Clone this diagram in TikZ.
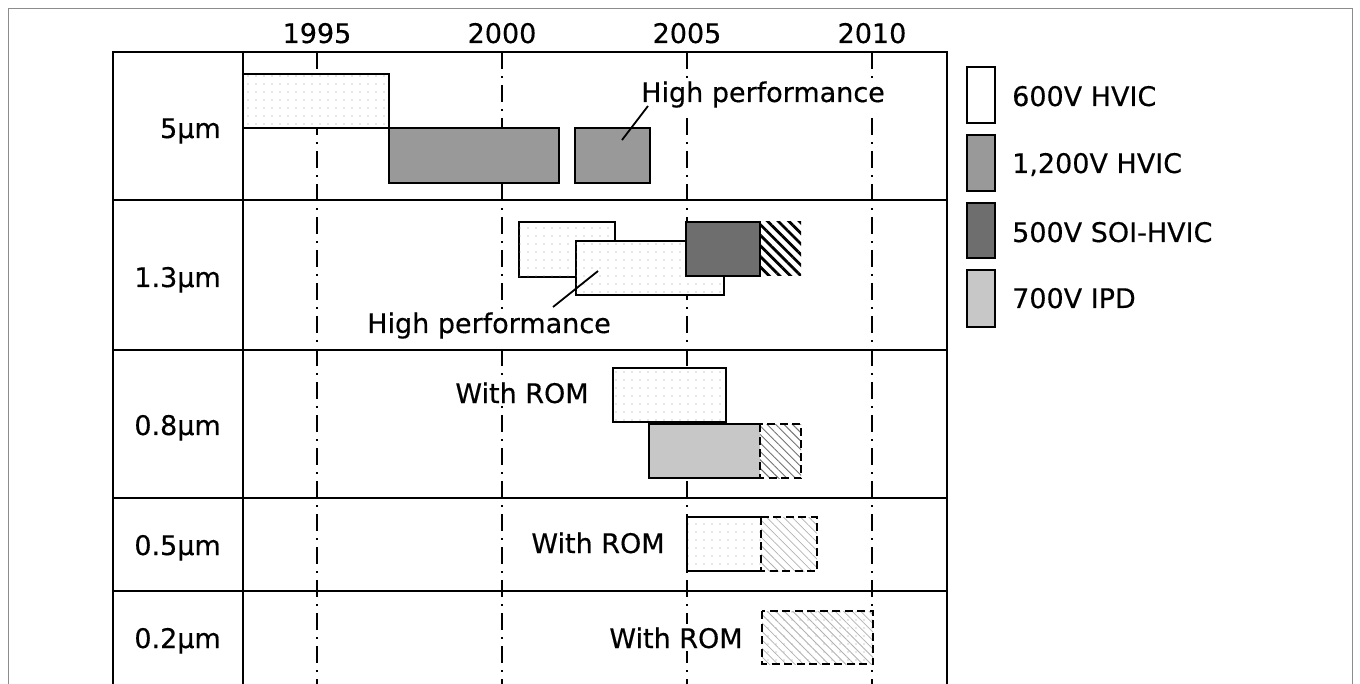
\documentclass[tikz,border=0pt]{standalone}
\usepackage{fontspec}
\setmainfont{DejaVu Sans}[FakeBold=0.4]
\usetikzlibrary{patterns.meta}

\begin{document}
\begin{tikzpicture}[x=1pt,y=-1pt,
  every node/.style={font=\fontsize{27}{32}\selectfont, inner sep=0pt},
  lbl/.style={fill=white, inner sep=3pt},
  frame/.style={draw=black!45, line width=1pt},
  rule/.style={line width=2.3pt, line cap=rect},
  gridline/.style={line width=1.6pt, dash pattern=on 17pt off 7pt on 2pt off 7pt},
  edge/.style={line width=2.5pt},
  dotted fill/.style={fill=white, postaction={pattern={Dots[distance=8pt, radius=0.6pt]}, pattern color=black!40}},
  hvic600/.style={draw, edge, dotted fill},
  hvic1200/.style={draw, edge, fill=black!40},
  soi/.style={draw, edge, fill=black!57},
  ipd/.style={fill=black!22},
  hatchbold/.style={pattern={Lines[angle=-45, distance=7.5pt, line width=2.8pt]}, pattern color=black},
  hatchthin/.style={pattern={Lines[angle=-45, distance=6pt, line width=1pt]}, pattern color=black!55},
  hatchfaint/.style={pattern={Lines[angle=-45, distance=6pt, line width=0.8pt]}, pattern color=black!30},
  dashbox/.style={draw, line width=2.5pt, dash pattern=on 8pt off 4.5pt},
  leader/.style={line width=1.8pt},
]
\useasboundingbox (0,0) rectangle (1360,684);

% outer frame (open at the bottom)
\draw[frame] (8,684) -- (8,9) -- (1352,9) -- (1352,684);

% year grid
\foreach \gx in {317,502,687,872}
  \draw[gridline] (\gx,52) -- (\gx,684);

% table rules
\foreach \ry in {52,200,350,498,591}
  \draw[rule] (113,\ry) -- (947,\ry);
\foreach \rx in {113,243,947}
  \draw[rule] (\rx,52) -- (\rx,690);

% year labels
\node[anchor=base] (y1995) at (317,43) {1995};
\node[anchor=base] (y2000) at (502,43) {2000};
\node[anchor=base] (y2005) at (687,43) {2005};
\node[anchor=base] (y2010) at (872,43) {2010};

% process rows
\node[anchor=base east] (r50) at (221,138) {5µm};
\node[anchor=base east] (r13) at (221,287) {1.3µm};
\node[anchor=base east] (r08) at (221,435) {0.8µm};
\node[anchor=base east] (r05) at (221,555) {0.5µm};
\node[anchor=base east] (r02) at (221,648) {0.2µm};

% 5um
\draw[hvic600] (243,74) rectangle (389,128);
\draw[hvic1200] (389,128) rectangle (559,183);
\draw[hvic1200] (575,128) rectangle (650,183);
\node[lbl, anchor=base] (hp1) at (763,102) {High performance};
\coordinate (hp1a) at (648,106);
\coordinate (hp1b) at (622,140);
\draw[leader] (hp1a) -- (hp1b);

% 1.3um
\draw[hvic600] (519,222) rectangle (615,277);
\draw[hvic600] (576,241) rectangle (724,295);
\draw[soi] (686,222) rectangle (760,276);
\path[hatchbold] (760,222) rectangle (801,276);
\node[lbl, anchor=base] (hp2) at (489,333) {High performance};
\coordinate (hp2a) at (553,307);
\coordinate (hp2b) at (598,271);
\draw[leader] (hp2a) -- (hp2b);

% 0.8um
\draw[hvic600] (613,368) rectangle (726,422);
\fill[ipd] (649,424) rectangle (760,478);
\draw[edge] (760,424) -- (649,424) -- (649,478) -- (760,478);
\path[hatchthin] (760,424) rectangle (801,478);
\draw[dashbox] (760,424) rectangle (801,478);
\node[lbl, anchor=base] (rom08) at (522,403) {With ROM};

% 0.5um
\path[dotted fill] (687,517) rectangle (761,571);
\draw[edge] (761,517) -- (687,517) -- (687,571) -- (761,571);
\path[hatchfaint] (761,517) rectangle (817,571);
\draw[dashbox] (761,517) rectangle (817,571);
\node[lbl, anchor=base] (rom05) at (598,553) {With ROM};

% 0.2um
\path[dotted fill] (762,611) rectangle (873,664);
\path[hatchfaint] (762,611) rectangle (873,664);
\draw[dashbox] (762,611) rectangle (873,664);
\node[lbl, anchor=base] (rom02) at (676,648) {With ROM};

% legend
\draw[edge, fill=white] (967,67) rectangle (995,123);
\draw[hvic1200] (967,135) rectangle (995,191);
\draw[soi] (967,203) rectangle (995,258);
\draw[edge, ipd] (967,270) rectangle (995,327);
\node[anchor=base west] (l600) at (1012,106) {600V HVIC};
\node[anchor=base west] (l1200) at (1012,173) {1,200V HVIC};
\node[anchor=base west] (lsoi) at (1012,242) {500V SOI-HVIC};
\node[anchor=base west] (lipd) at (1012,308) {700V IPD};
\end{tikzpicture}
\end{document}
